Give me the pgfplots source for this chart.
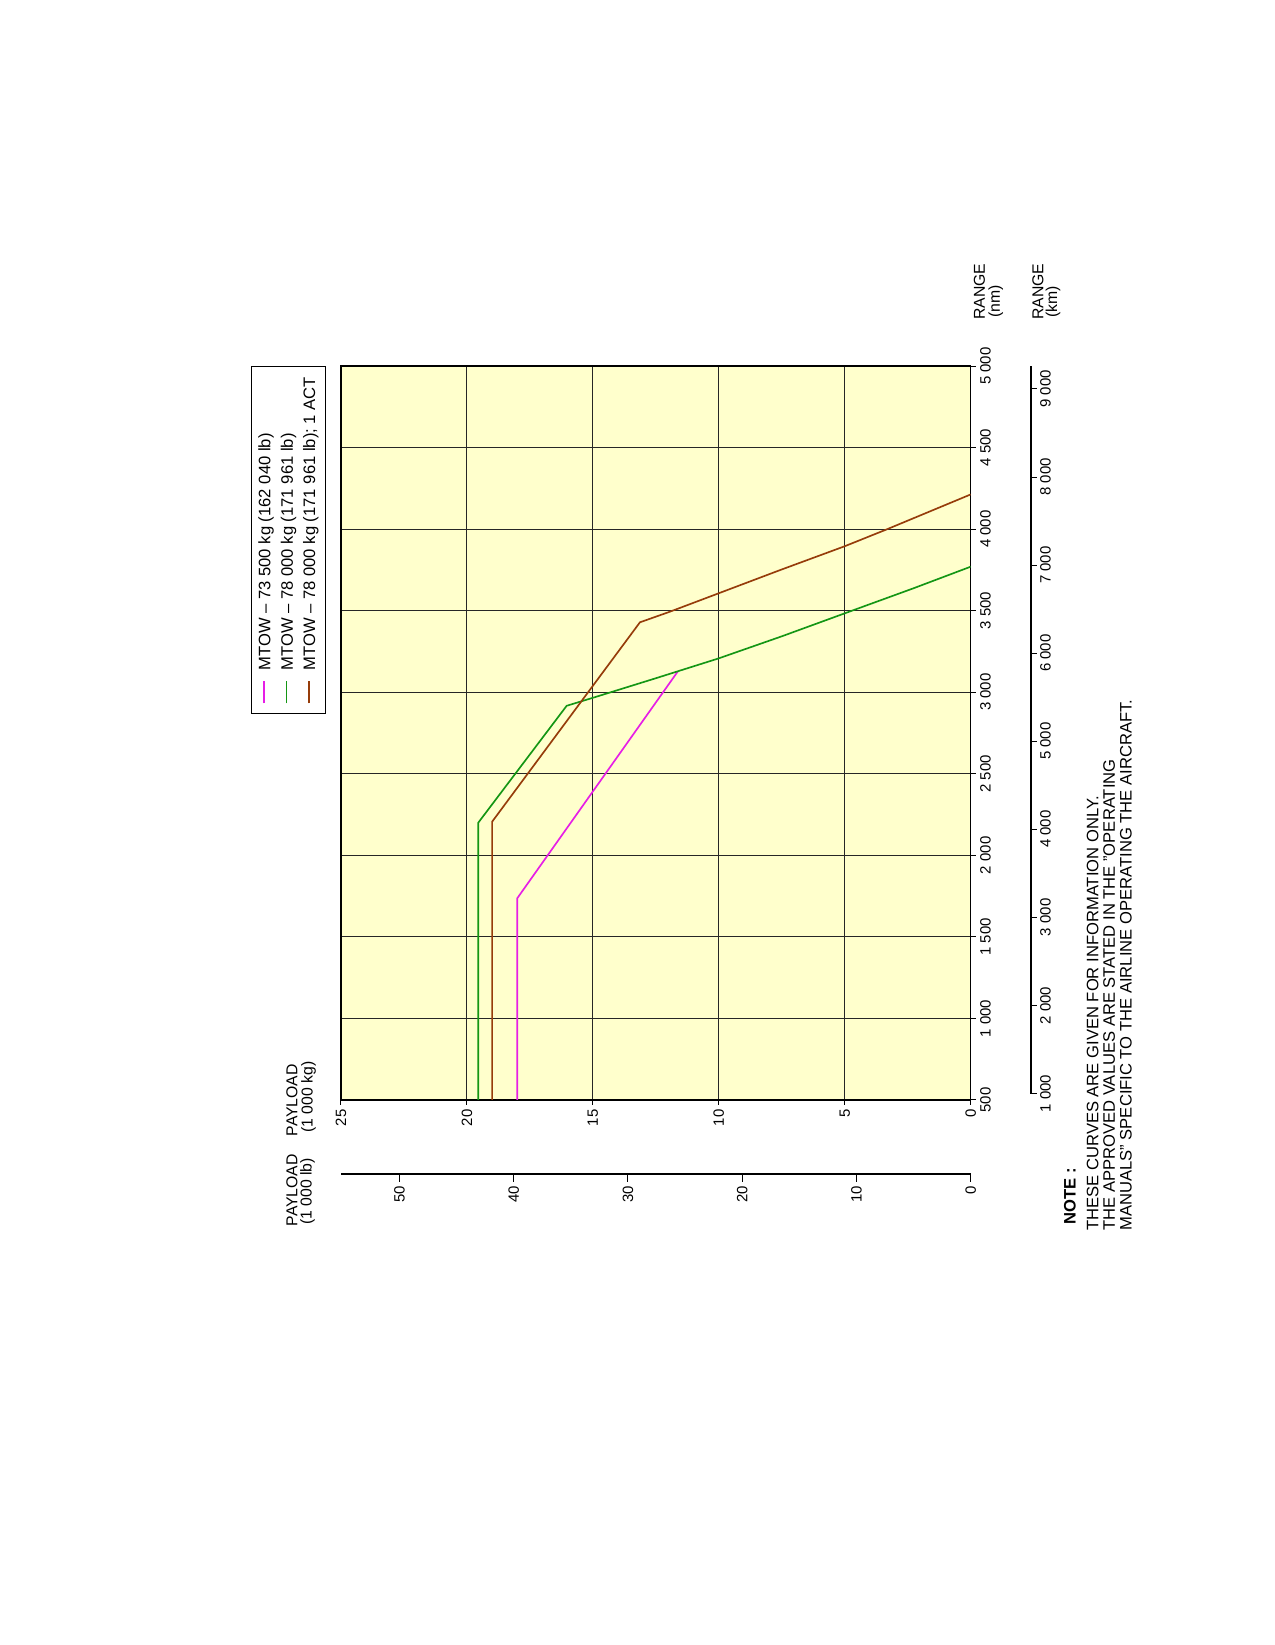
\documentclass[border=0pt]{standalone}
\usepackage{fontspec}
\setmainfont{Liberation Sans}
\usepackage{pgfplots}
\pgfplotsset{compat=1.18}
\definecolor{cbg}{RGB}{255,255,204}
\definecolor{cmag}{RGB}{230,30,230}
\definecolor{cgrn}{RGB}{20,150,20}
\definecolor{cbrn}{RGB}{150,60,10}
\newcommand\tf{\fontsize{7.2}{8}\selectfont}
\newcommand\lf{\fontsize{8}{8}\selectfont}
\newcommand\pf{\fontsize{7.6}{8}\selectfont}
\begin{document}
\begin{tikzpicture}
\path (0pt,0pt) rectangle (614.3pt,792.6pt);
% main axis: x = payload (1000 kg, reversed), y = range (nm)
\begin{axis}[
  at={(315.99pt,439.40pt)}, anchor=center,
  scale only axis, width=303.4pt, height=353.6pt,
  x dir=reverse, xmin=0, xmax=25, ymin=500, ymax=5000,
  xtick={0,5,10,15,20,25}, xticklabels={0,5,10,15,20,25},
  ytick={500,1000,1500,2000,2500,3000,3500,4000,4500,5000},
  yticklabels={500,1 000,1 500,2 000,2 500,3 000,3 500,4 000,4 500,5 000},
  xtick pos=bottom, ytick pos=right, tick align=outside,
  major tick length=2.4pt,
  tick style={black, line width=0.5pt},
  grid=major, major grid style={black!85, line width=0.5pt},
  axis line style={black, line width=0.8pt},
  axis background/.style={fill=cbg},
  xticklabel style={rotate=90, anchor=east, font=\tf, inner sep=2pt},
  yticklabel style={rotate=90, anchor=north, font=\tf, inner sep=2pt},
]
\addplot[cmag, line width=0.8pt] coordinates {(18.0,500) (18.0,1737) (11.63,3127)};
\addplot[cgrn, line width=0.8pt] coordinates {(19.55,500) (19.55,2200) (16.04,2917) (15,2966) (12.5,3086) (10,3208) (7.5,3343) (5,3484) (2.28,3637) (0,3770)};
\addplot[cbrn, line width=0.8pt] coordinates {(19.0,500) (19.0,2206) (13.13,3429) (11.94,3494) (10.02,3606) (7.57,3749) (4.99,3896) (3.33,3999) (0,4213)};
\end{axis}
% payload in 1000 lb
\begin{axis}[
  at={(315.99pt,226.78pt)}, anchor=south,
  scale only axis, width=303.4pt, height=5pt,
  x dir=reverse, xmin=0, xmax=55.1156, ymin=0, ymax=1,
  axis x line*=bottom, axis y line=none,
  xtick={0,10,20,30,40,50}, xticklabels={0,10,20,30,40,50},
  tick align=outside, major tick length=3.6pt,
  tick style={black, line width=0.5pt},
  axis line style={-, black, line width=0.8pt},
  xticklabel style={rotate=90, anchor=east, font=\tf, inner sep=2pt},
]
\end{axis}
% range in km
\begin{axis}[
  at={(496.74pt,440.97pt)}, anchor=east,
  scale only axis, width=2pt, height=350.5pt,
  xmin=0, xmax=1, ymin=1000, ymax=9260,
  axis y line*=right, axis x line=none,
  ytick={1000,2000,3000,4000,5000,6000,7000,8000,9000},
  yticklabels={1 000,2 000,3 000,4 000,5 000,6 000,7 000,8 000,9 000},
  tick align=outside, major tick length=2.7pt,
  tick style={black, line width=0.5pt},
  axis line style={-, black, line width=0.8pt},
  yticklabel style={rotate=90, anchor=north, font=\tf, inner sep=1.5pt},
]
\end{axis}
% legend
\node[draw=black, line width=0.5pt, rotate=90, anchor=south east, inner xsep=4pt, inner ysep=3.3pt,
      minimum width=167.3pt, align=left, font=\fontsize{8}{10.8}\selectfont] at (157.07pt,616.22pt) {%
\textcolor{cmag}{\rule[2.6pt]{10.6pt}{0.8pt}}\hspace{5.3pt}MTOW – 73 500 kg (162 040 lb)\\
\textcolor{cgrn}{\rule[2.6pt]{10.6pt}{0.8pt}}\hspace{5.3pt}MTOW – 78 000 kg (171 961 lb)\\
\textcolor{cbrn}{\rule[2.6pt]{10.6pt}{0.8pt}}\hspace{5.3pt}MTOW – 78 000 kg (171 961 lb); 1 ACT};
% axis titles
\node[rotate=90, anchor=base west, font=\pf, inner sep=0pt] at (143.3pt,244.90pt) {PAYLOAD};
\node[rotate=90, anchor=base west, font=\pf, inner sep=0pt] at (150.6pt,246.68pt) {(1 000 kg)};
\node[rotate=90, anchor=base west, font=\pf, inner sep=0pt] at (143.3pt,201.54pt) {PAYLOAD};
\node[rotate=90, anchor=base west, font=\pf, inner sep=0pt] at (150.2pt,202.36pt) {(1 000 lb)};
\node[rotate=90, anchor=base west, font=\pf, inner sep=0pt] at (474.57pt,638.39pt) {RANGE};
\node[rotate=90, anchor=base west, font=\pf, inner sep=0pt] at (481.8pt,639.35pt) {(nm)};
\node[rotate=90, anchor=base west, font=\pf, inner sep=0pt] at (502.66pt,638.39pt) {RANGE};
\node[rotate=90, anchor=base west, font=\pf, inner sep=0pt] at (509.3pt,639.35pt) {(km)};
% note
\node[rotate=90, anchor=base west, font=\lf\bfseries, inner sep=0pt] at (518.27pt,202.36pt) {NOTE :};
\node[rotate=90, anchor=base west, font=\lf, inner sep=0pt] at (529.16pt,199.47pt) {THESE CURVES ARE GIVEN FOR INFORMATION ONLY.};
\node[rotate=90, anchor=base west, font=\lf, inner sep=0pt] at (537.21pt,199.47pt) {THE APPROVED VALUES ARE STATED IN THE "OPERATING};
\node[rotate=90, anchor=base west, font=\lf, inner sep=0pt] at (545.25pt,199.47pt) {MANUALS" SPECIFIC TO THE AIRLINE OPERATING THE AIRCRAFT.};
\end{tikzpicture}
\end{document}
